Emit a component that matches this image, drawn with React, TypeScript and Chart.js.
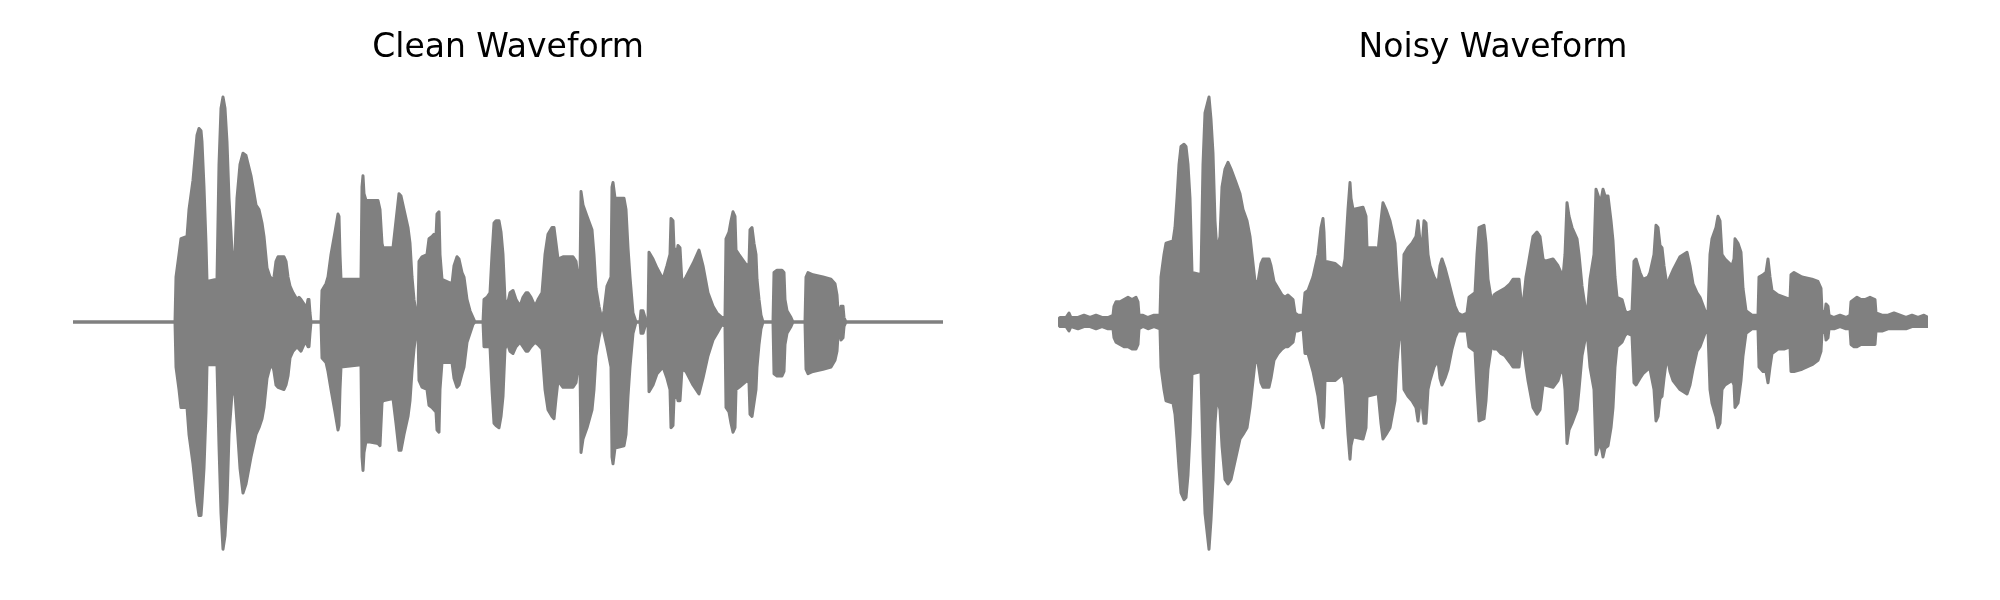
import React, { useEffect, useRef } from "react";
import { Chart, registerables } from "chart.js";

Chart.register(...registerables);

// Envelope of each waveform: [frame, upper amplitude, lower amplitude]
const cleanEnvelope: [number, number, number][] = [
  [0, 0, 0], [102, 0, 0], [103, 0.2, -0.2], [106, 0.3, -0.3], [108, 0.37, -0.38], [114, 0.38, -0.38],
  [116, 0.5, -0.5], [120, 0.63, -0.63], [124, 0.83, -0.8], [126, 0.86, -0.86], [128, 0.85, -0.86],
  [129, 0.8, -0.8], [131, 0.6, -0.65], [133, 0.35, -0.4], [134, 0.18, -0.19], [144, 0.19, -0.19],
  [146, 0.7, -0.55], [148, 0.95, -0.85], [150, 1.0, -1.01], [152, 0.95, -0.95], [154, 0.8, -0.8],
  [156, 0.55, -0.5], [158, 0.4, -0.38], [159, 0.31, -0.32], [162, 0.31, -0.32], [164, 0.55, -0.45],
  [167, 0.7, -0.65], [170, 0.75, -0.76], [173, 0.74, -0.72], [178, 0.65, -0.6], [183, 0.52, -0.5],
  [186, 0.5, -0.47], [189, 0.44, -0.43], [191, 0.38, -0.38], [194, 0.24, -0.25], [197, 0.2, -0.2],
  [200, 0.19, -0.2], [201, 0.2, -0.22], [203, 0.27, -0.28], [205, 0.29, -0.29], [211, 0.29, -0.3],
  [213, 0.27, -0.28], [215, 0.2, -0.24], [217, 0.16, -0.16], [220, 0.13, -0.13], [224, 0.1, -0.11],
  [226, 0.11, -0.12], [228, 0.1, -0.13], [231, 0.08, -0.1], [233, 0.05, -0.09], [235, 0.1, -0.11],
  [236, 0.1, -0.11], [237, 0.04, -0.05], [238, 0, 0], [248, 0, 0], [249, 0.14, -0.16], [253, 0.17, -0.18],
  [255, 0.2, -0.22], [258, 0.3, -0.3], [262, 0.4, -0.4], [265, 0.48, -0.48], [266, 0.47, -0.46],
  [267, 0.3, -0.3], [268, 0.19, -0.2], [288, 0.19, -0.19], [289, 0.6, -0.6], [290, 0.65, -0.66],
  [291, 0.57, -0.58], [293, 0.54, -0.53], [305, 0.54, -0.54], [307, 0.5, -0.55], [309, 0.35, -0.36],
  [310, 0.33, -0.35], [320, 0.33, -0.34], [323, 0.45, -0.45], [326, 0.57, -0.57], [328, 0.56, -0.57],
  [331, 0.5, -0.5], [335, 0.42, -0.42], [337, 0.35, -0.35], [339, 0.2, -0.22], [341, 0.1, -0.12],
  [343, 0.04, -0.05], [345, 0.04, -0.05], [346, 0.27, -0.26], [349, 0.29, -0.29], [354, 0.3, -0.3],
  [356, 0.37, -0.37], [359, 0.38, -0.38], [361, 0.39, -0.39], [363, 0.38, -0.4], [364, 0.48, -0.48],
  [366, 0.49, -0.49], [367, 0.3, -0.3], [369, 0.19, -0.18], [379, 0.17, -0.18], [381, 0.25, -0.25],
  [384, 0.29, -0.29], [386, 0.28, -0.28], [389, 0.22, -0.23], [391, 0.2, -0.2], [394, 0.1, -0.09],
  [397, 0.05, -0.05], [400, 0.02, -0.01], [402, 0, 0], [410, 0, 0], [411, 0.1, -0.11], [414, 0.11, -0.11],
  [417, 0.13, -0.11], [419, 0.3, -0.3], [421, 0.44, -0.45], [423, 0.45, -0.46], [426, 0.45, -0.47],
  [428, 0.4, -0.42], [430, 0.3, -0.33], [432, 0.1, -0.12], [434, 0.07, -0.09], [437, 0.13, -0.13],
  [440, 0.14, -0.14], [443, 0.1, -0.11], [447, 0.07, -0.09], [450, 0.11, -0.11], [453, 0.13, -0.13],
  [455, 0.13, -0.13], [458, 0.11, -0.11], [462, 0.07, -0.09], [465, 0.1, -0.1], [469, 0.13, -0.12],
  [472, 0.3, -0.3], [475, 0.39, -0.39], [479, 0.42, -0.42], [481, 0.42, -0.43], [483, 0.35, -0.34],
  [485, 0.28, -0.26], [490, 0.29, -0.29], [500, 0.29, -0.29], [503, 0.27, -0.27], [505, 0.2, -0.2],
  [507, 0.2, -0.2], [508, 0.58, -0.58], [510, 0.52, -0.52], [514, 0.47, -0.47], [519, 0.41, -0.39],
  [521, 0.3, -0.3], [523, 0.15, -0.15], [526, 0.07, -0.07], [529, 0.01, -0.01], [531, 0.05, -0.05],
  [534, 0.16, -0.11], [538, 0.2, -0.2], [539, 0.6, -0.6], [540, 0.62, -0.63], [542, 0.55, -0.56],
  [551, 0.55, -0.55], [553, 0.5, -0.5], [555, 0.33, -0.33], [557, 0.2, -0.2], [560, 0.04, -0.05],
  [563, 0, 0], [567, 0, 0], [568, 0.05, -0.05], [570, 0.05, -0.05], [572, 0.02, -0.02], [575, 0, 0],
  [576, 0.31, -0.31], [580, 0.28, -0.28], [584, 0.24, -0.23], [590, 0.19, -0.2], [594, 0.25, -0.25],
  [597, 0.3, -0.3], [598, 0.46, -0.47], [600, 0.45, -0.46], [601, 0.33, -0.34], [604, 0.31, -0.33],
  [605, 0.34, -0.35], [607, 0.33, -0.35], [609, 0.17, -0.21], [613, 0.2, -0.22], [620, 0.26, -0.28],
  [626, 0.32, -0.32], [630, 0.25, -0.25], [635, 0.13, -0.15], [640, 0.07, -0.08], [644, 0.04, -0.05],
  [649, 0.02, -0.01], [652, 0.02, -0.02], [653, 0.37, -0.38], [656, 0.4, -0.4], [658, 0.45, -0.45],
  [660, 0.49, -0.49], [662, 0.47, -0.47], [663, 0.32, -0.3], [666, 0.3, -0.29], [674, 0.25, -0.26],
  [676, 0.26, -0.27], [677, 0.41, -0.41], [679, 0.42, -0.42], [681, 0.35, -0.36], [683, 0.3, -0.3],
  [684, 0.19, -0.2], [686, 0.1, -0.1], [688, 0.03, -0.03], [690, 0, 0], [700, 0, 0], [701, 0.22, -0.23],
  [704, 0.23, -0.24], [709, 0.23, -0.24], [711, 0.22, -0.22], [712, 0.1, -0.1], [714, 0.05, -0.05],
  [718, 0.02, -0.02], [720, 0, 0], [732, 0, 0], [733, 0.2, -0.21], [735, 0.22, -0.23], [740, 0.21, -0.22],
  [750, 0.2, -0.21], [758, 0.19, -0.2], [762, 0.17, -0.17], [764, 0.12, -0.13], [765, 0.05, -0.06],
  [767, 0.04, -0.04], [768, 0.07, -0.08], [770, 0.07, -0.07], [771, 0.02, -0.02], [773, 0, 0], [870, 0, 0],
];

const noisyEnvelope: [number, number, number][] = [
  [0, 0.01, -0.01], [2, 0.02, -0.02], [8, 0.02, -0.02], [11, 0.04, -0.04], [13, 0.02, -0.02], [20, 0.02, -0.03],
  [26, 0.03, -0.02], [32, 0.02, -0.02], [38, 0.03, -0.03], [44, 0.02, -0.02], [50, 0.02, -0.03], [55, 0.03, -0.03],
  [56, 0.07, -0.07], [58, 0.09, -0.09], [62, 0.09, -0.1], [66, 0.1, -0.11], [70, 0.11, -0.11], [74, 0.1, -0.12],
  [78, 0.11, -0.12], [80, 0.09, -0.1], [81, 0.03, -0.03], [85, 0.03, -0.02], [90, 0.02, -0.03], [96, 0.03, -0.02],
  [102, 0.03, -0.03], [103, 0.2, -0.2], [106, 0.3, -0.3], [108, 0.35, -0.35], [115, 0.36, -0.36], [117, 0.42, -0.41],
  [119, 0.55, -0.52], [121, 0.7, -0.65], [123, 0.78, -0.76], [126, 0.79, -0.79], [128, 0.78, -0.78], [130, 0.7, -0.68],
  [132, 0.55, -0.5], [134, 0.22, -0.23], [143, 0.21, -0.22], [145, 0.7, -0.6], [147, 0.93, -0.85], [151, 1.0, -1.01],
  [153, 0.9, -0.88], [155, 0.75, -0.7], [157, 0.45, -0.45], [159, 0.31, -0.33], [162, 0.38, -0.39], [164, 0.6, -0.55],
  [167, 0.68, -0.7], [170, 0.71, -0.72], [173, 0.68, -0.7], [178, 0.62, -0.6], [182, 0.57, -0.52], [185, 0.5, -0.5],
  [189, 0.45, -0.47], [192, 0.38, -0.38], [194, 0.3, -0.3], [197, 0.18, -0.18], [200, 0.18, -0.18], [203, 0.26, -0.27],
  [205, 0.28, -0.29], [211, 0.28, -0.29], [213, 0.25, -0.25], [216, 0.18, -0.17], [220, 0.15, -0.14], [224, 0.12, -0.12],
  [227, 0.11, -0.11], [230, 0.12, -0.11], [235, 0.1, -0.09], [237, 0.04, -0.04], [240, 0.03, -0.04], [245, 0.03, -0.03],
  [247, 0.13, -0.14], [250, 0.14, -0.14], [255, 0.2, -0.22], [260, 0.3, -0.33], [263, 0.42, -0.44], [265, 0.46, -0.47],
  [266, 0.4, -0.42], [267, 0.27, -0.26], [277, 0.26, -0.26], [285, 0.23, -0.23], [287, 0.28, -0.28], [290, 0.5, -0.5],
  [292, 0.62, -0.61], [293, 0.55, -0.55], [295, 0.5, -0.51], [305, 0.51, -0.52], [308, 0.47, -0.47], [309, 0.33, -0.33],
  [318, 0.33, -0.32], [320, 0.31, -0.31], [323, 0.45, -0.45], [325, 0.53, -0.52], [328, 0.5, -0.5], [332, 0.45, -0.47],
  [337, 0.35, -0.35], [339, 0.2, -0.18], [341, 0.09, -0.08], [344, 0.07, -0.07], [346, 0.3, -0.3], [350, 0.33, -0.33],
  [354, 0.35, -0.35], [358, 0.38, -0.38], [360, 0.45, -0.44], [362, 0.36, -0.36], [364, 0.33, -0.36], [366, 0.45, -0.45],
  [368, 0.44, -0.45], [370, 0.3, -0.3], [372, 0.25, -0.26], [376, 0.2, -0.2], [380, 0.17, -0.17], [382, 0.25, -0.25],
  [384, 0.28, -0.28], [387, 0.24, -0.25], [390, 0.19, -0.21], [394, 0.12, -0.12], [397, 0.07, -0.07], [400, 0.04, -0.04],
  [404, 0.03, -0.04], [409, 0.04, -0.04], [411, 0.11, -0.11], [417, 0.13, -0.13], [419, 0.3, -0.3], [421, 0.42, -0.44],
  [426, 0.43, -0.43], [428, 0.35, -0.35], [430, 0.19, -0.21], [434, 0.08, -0.09], [436, 0.12, -0.12], [439, 0.13, -0.12],
  [443, 0.14, -0.14], [447, 0.15, -0.15], [452, 0.17, -0.18], [455, 0.19, -0.2], [461, 0.19, -0.2], [463, 0.1, -0.12],
  [465, 0.07, -0.09], [468, 0.2, -0.2], [470, 0.25, -0.26], [475, 0.38, -0.38], [479, 0.4, -0.41], [482, 0.38, -0.39],
  [485, 0.28, -0.28], [487, 0.27, -0.28], [495, 0.28, -0.29], [500, 0.25, -0.26], [502, 0.23, -0.23], [505, 0.2, -0.21],
  [507, 0.3, -0.3], [509, 0.53, -0.54], [511, 0.47, -0.48], [514, 0.42, -0.45], [519, 0.37, -0.39], [521, 0.3, -0.3],
  [524, 0.16, -0.15], [527, 0.07, -0.08], [529, 0.02, -0.04], [532, 0.19, -0.2], [536, 0.3, -0.3], [538, 0.59, -0.59],
  [541, 0.55, -0.55], [543, 0.54, -0.55], [545, 0.59, -0.6], [547, 0.56, -0.56], [550, 0.56, -0.55], [553, 0.45, -0.47],
  [555, 0.36, -0.38], [557, 0.2, -0.2], [559, 0.11, -0.11], [564, 0.1, -0.09], [567, 0.05, -0.06], [569, 0.04, -0.05],
  [574, 0.05, -0.06], [576, 0.27, -0.27], [578, 0.28, -0.28], [582, 0.22, -0.25], [585, 0.19, -0.23], [590, 0.2, -0.21],
  [592, 0.22, -0.21], [596, 0.3, -0.3], [598, 0.43, -0.44], [600, 0.42, -0.42], [602, 0.34, -0.34], [604, 0.33, -0.33],
  [606, 0.25, -0.25], [609, 0.16, -0.15], [612, 0.2, -0.22], [615, 0.23, -0.26], [622, 0.29, -0.3], [629, 0.31, -0.32],
  [632, 0.25, -0.28], [635, 0.17, -0.21], [639, 0.13, -0.13], [642, 0.11, -0.11], [647, 0.05, -0.05], [650, 0.04, -0.04],
  [652, 0.3, -0.3], [654, 0.37, -0.36], [658, 0.42, -0.42], [660, 0.47, -0.47], [662, 0.45, -0.45], [664, 0.3, -0.3],
  [667, 0.28, -0.28], [674, 0.25, -0.26], [676, 0.28, -0.28], [677, 0.37, -0.38], [680, 0.35, -0.36], [683, 0.31, -0.26],
  [685, 0.15, -0.15], [688, 0.05, -0.05], [694, 0.03, -0.03], [700, 0.03, -0.03], [701, 0.2, -0.2], [705, 0.21, -0.22],
  [708, 0.22, -0.22], [710, 0.28, -0.27], [712, 0.2, -0.2], [714, 0.14, -0.14], [720, 0.12, -0.12], [726, 0.11, -0.12],
  [732, 0.1, -0.11], [733, 0.21, -0.22], [736, 0.22, -0.22], [744, 0.2, -0.21], [754, 0.19, -0.19], [760, 0.18, -0.17],
  [763, 0.15, -0.13], [764, 0.05, -0.05], [767, 0.04, -0.04], [768, 0.08, -0.08], [770, 0.07, -0.07], [771, 0.03, -0.03],
  [776, 0.02, -0.03], [782, 0.03, -0.02], [788, 0.02, -0.03], [792, 0.03, -0.03], [793, 0.09, -0.1], [796, 0.1, -0.11],
  [799, 0.11, -0.11], [803, 0.1, -0.1], [807, 0.1, -0.1], [812, 0.11, -0.1], [817, 0.1, -0.1], [818, 0.04, -0.04],
  [824, 0.03, -0.04], [830, 0.03, -0.03], [836, 0.04, -0.03], [842, 0.03, -0.03], [848, 0.02, -0.03], [854, 0.03, -0.02],
  [860, 0.02, -0.02], [866, 0.03, -0.02], [870, 0.02, -0.02],
];

const panelTitles = ["Clean Waveform", "Noisy Waveform"];

const GRAY = "#808080";

type PanelProps = {
  title: string;
  envelope: [number, number, number][];
  padLeft: number;
  padRight: number;
};

function WavePanel({ title, envelope, padLeft, padRight }: PanelProps) {
  const ref = useRef<HTMLCanvasElement | null>(null);
  useEffect(() => {
    if (!ref.current) return;
    const lineStyle = {
      borderColor: GRAY,
      backgroundColor: GRAY,
      borderWidth: 3,
      pointRadius: 0,
      tension: 0,
      borderJoinStyle: "round" as const,
      borderCapStyle: "round" as const,
    };
    const chart = new Chart(ref.current, {
      type: "line",
      data: {
        datasets: [
          { ...lineStyle, data: envelope.map((r) => ({ x: r[0], y: r[1] })), fill: "+1" },
          { ...lineStyle, data: envelope.map((r) => ({ x: r[0], y: r[2] })), fill: false },
        ],
      },
      options: {
        responsive: false,
        animation: false,
        devicePixelRatio: 1,
        events: [],
        layout: { padding: { left: padLeft, right: padRight, top: 0, bottom: 30.5 } },
        plugins: {
          legend: { display: false },
          tooltip: { enabled: false },
          title: {
            display: true,
            text: title,
            color: "#000000",
            font: { family: "'DejaVu Sans'", size: 33, weight: "normal", lineHeight: 1.2 },
            padding: { top: 28.2, bottom: 6.7 },
          },
        },
        scales: {
          x: { type: "linear", display: false, min: 0, max: 870 },
          y: { type: "linear", display: false, min: -1.1, max: 1.1 },
        },
      },
    });
    return () => chart.destroy();
  }, [title, envelope, padLeft, padRight]);
  return (
    <canvas
      ref={ref}
      width={1000}
      height={600}
      style={{ display: "block", width: 1000, height: 600 }}
    />
  );
}

export default function App() {
  return (
    <div
      style={{
        position: "absolute",
        left: 0,
        top: 0,
        width: 2000,
        height: 600,
        display: "flex",
        background: "#ffffff",
      }}
    >
      <WavePanel title={panelTitles[0]} envelope={cleanEnvelope} padLeft={73} padRight={57} />
      <WavePanel title={panelTitles[1]} envelope={noisyEnvelope} padLeft={58} padRight={72} />
    </div>
  );
}
